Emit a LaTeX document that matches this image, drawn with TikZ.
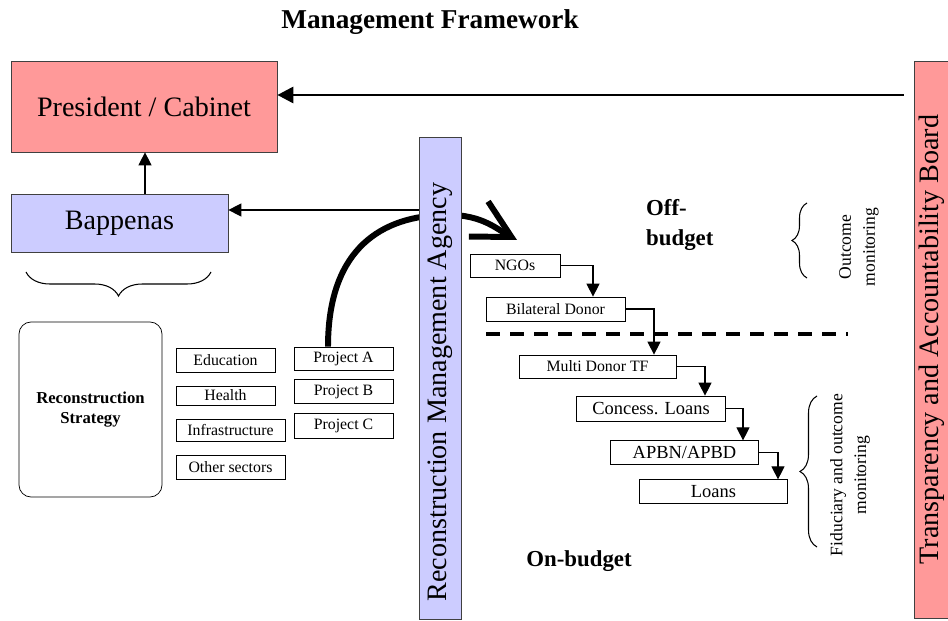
\documentclass[tikz,border=0pt]{standalone}
\usepackage{fontspec}
\setmainfont{Liberation Serif}
\usetikzlibrary{positioning, arrows.meta, calc, decorations.pathreplacing}
\definecolor{mypink}{RGB}{255,153,153}
\definecolor{myblue}{RGB}{204,204,255}

\begin{document}
\begin{tikzpicture}
[redbox/.style={rectangle, draw=black!75, fill=mypink, inner sep=0pt, font=\fontsize{16}{19}\selectfont},
 bluebox/.style={rectangle, draw=black!75, fill=myblue, inner sep=0pt, font=\fontsize{16}{19}\selectfont},
 sbox/.style={rectangle, draw, inner sep=0pt, font=\fontsize{9}{11}\selectfont},
 lbox/.style={rectangle, draw, inner sep=0pt, minimum width=2.97cm, minimum height=0.47cm, font=\fontsize{10.5}{12}\selectfont},
 hd/.style={font=\fontsize{13}{17}\selectfont\bfseries, align=left},
 side/.style={rotate=90, align=center, font=\fontsize{10}{13.6}\selectfont},
 arr/.style={line width=0.6pt, arrows={-Triangle[length=0.26cm, width=0.26cm]}},
 bigarr/.style={line width=1.7pt, arrows={-Triangle[length=0.32cm, width=0.32cm]}},
 fatarr/.style={line width=3.4pt, arrows={-Straight Barb[length=0.75cm, width=0.8cm]}},
 brc/.style={decorate, decoration={brace, amplitude=#1}, line width=0.6pt}]

\useasboundingbox (0,0) rectangle (18.96,-12.42);

% title
\node[font=\fontsize{15.5}{18}\selectfont\bfseries] (title) at (8.6,-0.44) {Management Framework};

% left column
\node[redbox, minimum width=5.32cm, minimum height=1.82cm] (pres) at (2.88,-2.13) {President / Cabinet};
\node[bluebox, minimum width=4.34cm, minimum height=1.16cm] (bap) at (2.39,-4.46) {Bappenas};
\node[rectangle, draw, rounded corners=0.24cm, minimum width=2.86cm, minimum height=3.5cm, align=center,
      font=\fontsize{9.5}{11.3}\selectfont\bfseries] (strat) at (1.81,-8.19) {Reconstruction\\Strategy};

% sectors and projects
\node[sbox, minimum width=1.98cm, minimum height=0.48cm] (edu) at (4.51,-7.2) {Education};
\node[sbox, minimum width=1.98cm, minimum height=0.38cm] (hea) at (4.51,-7.91) {Health};
\node[sbox, minimum width=2.18cm, minimum height=0.44cm] (inf) at (4.61,-8.6) {Infrastructure};
\node[sbox, minimum width=2.18cm, minimum height=0.48cm] (oth) at (4.61,-9.34) {Other sectors};
\node[sbox, minimum width=1.98cm, minimum height=0.46cm] (pA) at (6.87,-7.17) {Project A};
\node[sbox, minimum width=1.98cm, minimum height=0.48cm] (pB) [below=0.18 of pA] {Project B};
\node[sbox, minimum width=1.98cm, minimum height=0.5cm] (pC) [below=0.18 of pB] {Project C};

% the big curved arrow runs behind the agency bar
\coordinate (arcEnd) at (10.34,-4.8);
\draw[fatarr] ([xshift=-0.31cm]pA.north) .. controls (6.56,-5.1) and (7.5,-4.36) .. (8.8,-4.3)
  .. controls (9.6,-4.26) and (9.9,-4.56) .. (arcEnd);

% the two bars
\node[bluebox, rotate=90, minimum width=9.64cm, minimum height=0.84cm] (rma) at (8.8,-7.56) {Reconstruction Management Agency\hspace*{0.56cm}};
\node[redbox, rotate=90, minimum width=11.14cm, minimum height=0.72cm] (tab) at (18.64,-6.79) {Transparency and Accountability Board};

% funding cascade
\node[sbox, minimum width=1.8cm, minimum height=0.46cm] (ngo) at (10.3,-5.31) {NGOs};
\node[sbox, minimum width=2.78cm, minimum height=0.48cm] (bil) at (11.11,-6.18) {Bilateral Donor};
\node[sbox, minimum width=3.14cm, minimum height=0.46cm] (mdtf) at (11.95,-7.33) {Multi Donor TF};
\node[lbox, minimum height=0.5cm] (conc) at (13.02,-8.17) {Concess. Loans};
\node[lbox] (apbn) at (13.69,-9.05) {APBN/APBD};
\node[lbox] (loan) at (14.27,-9.83) {Loans};

\node[hd, anchor=west] (off) at (12.8,-4.5) {Off-\\budget};
\node[hd] (on) at (11.58,-11.22) {On-budget};

\coordinate (dashL) at (9.72,-6.68);
\coordinate (dashR) at (16.96,-6.68);
\draw[line width=1.8pt, dash pattern=on 0.28cm off 0.2cm] (dashL) -- (dashR);

% monitoring braces
\coordinate (b1a) at (16.14,-5.56);
\coordinate (b1b) at (16.14,-4.06);
\coordinate (b2a) at (16.34,-10.94);
\coordinate (b2b) at (16.34,-7.92);
\coordinate (b3a) at (0.52,-5.44);
\coordinate (b3b) at (4.22,-5.44);
\draw[brc=0.3cm] (b1a) -- (b1b);
\draw[brc=0.34cm] (b2a) -- (b2b);
\draw[brc=0.48cm, decoration={mirror}] (b3a) -- (b3b);
\node[side] (outm) at (17.18,-4.94) {Outcome\\monitoring};
\node[side] (fidm) at (17.0,-9.5) {Fiduciary and outcome\\monitoring};

% connectors
\coordinate (topy) at ($(pres.east)+(0,0.23)$);
\coordinate (bapin) at ($(bap.east)+(0,0.26)$);
\coordinate (bapup) at ([xshift=0.51cm]bap.north);
\draw[bigarr, shorten <=0.2cm] (tab.north |- topy) -- (topy);
\draw[arr] (bapup) -- (bapup |- pres.south);
\draw[arr] (rma.north |- bapin) -- (bapin);
\draw[arr] (ngo.east) -| ([xshift=0.75cm]bil.north);
\draw[arr] (bil.east) -| ([xshift=1.13cm]mdtf.north);
\draw[arr] (mdtf.east) -| ([xshift=1.08cm]conc.north);
\draw[arr] (conc.east) -| ([xshift=1.17cm]apbn.north);
\draw[arr] (apbn.east) -| ([xshift=1.29cm]loan.north);

\end{tikzpicture}
\end{document}
